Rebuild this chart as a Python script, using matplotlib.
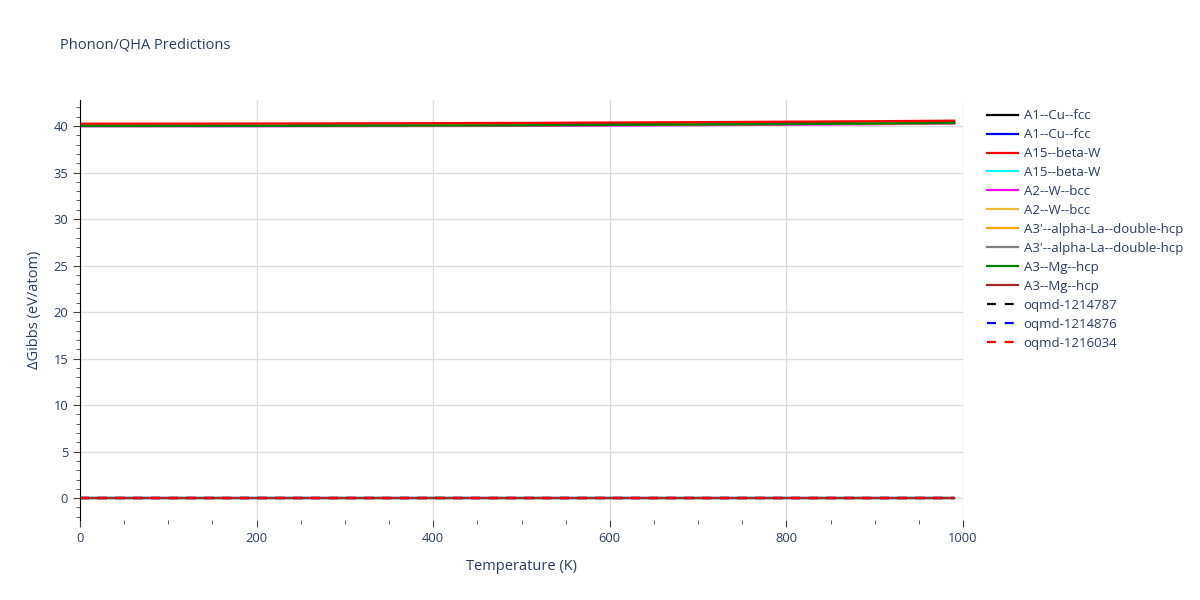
import matplotlib
matplotlib.use("Agg")
import matplotlib.pyplot as plt
from matplotlib.ticker import MultipleLocator

plt.rcParams['font.family'] = ['Open Sans', 'DejaVu Sans']

temps = [0, 100, 200, 300, 400, 500, 600, 700, 800, 900, 990]

labels = ["A1--Cu--fcc", "A1--Cu--fcc", "A15--beta-W", "A15--beta-W", "A2--W--bcc", "A2--W--bcc",
          "A3'--alpha-La--double-hcp", "A3'--alpha-La--double-hcp", "A3--Mg--hcp", "A3--Mg--hcp",
          "oqmd-1214787", "oqmd-1214876", "oqmd-1216034"]
colors = ["black", "blue", "red", "cyan", "magenta", "#EBC13A", "orange", "grey", "green", "brown",
          "black", "blue", "red"]
dashed = [False] * 10 + [True] * 3

s_a1_cu_1 = [40.08, 40.08, 40.09, 40.11, 40.13, 40.16, 40.2, 40.25, 40.3, 40.36, 40.42]
s_a1_cu_2 = [0.0] * 11
s_a15_1 = [40.25, 40.26, 40.27, 40.29, 40.31, 40.34, 40.38, 40.42, 40.47, 40.52, 40.58]
s_a15_2 = [0.06] * 11
s_a2_1 = [39.98, 39.98, 39.98, 39.99, 40.0, 40.02, 40.05, 40.09, 40.14, 40.2, 40.26]
s_a2_2 = [0.02] * 11
s_a3p_1 = [40.02, 40.02, 40.03, 40.04, 40.06, 40.09, 40.12, 40.16, 40.21, 40.26, 40.31]
s_a3p_2 = [0.0] * 11
s_a3_1 = [40.0, 40.0, 40.01, 40.03, 40.05, 40.08, 40.12, 40.16, 40.21, 40.27, 40.33]
s_a3_2 = [-0.03] * 11
s_oq_1 = [0.0] * 11
s_oq_2 = [0.03] * 11
s_oq_3 = [-0.02] * 11

series = [s_a1_cu_1, s_a1_cu_2, s_a15_1, s_a15_2, s_a2_1, s_a2_2, s_a3p_1, s_a3p_2,
          s_a3_1, s_a3_2, s_oq_1, s_oq_2, s_oq_3]

fig = plt.figure(figsize=(12, 6), dpi=100)
ax = fig.add_axes([80/1200, 1 - 520/600, (963-80)/1200, (520-100)/600])

txt = "#2a3f5f"
handles = []
for lab, c, d, ys in zip(labels, colors, dashed, series):
    h, = ax.plot(temps, ys, color=c, lw=1.6, linestyle=(0, (4, 4)) if d else '-', label=lab)
    handles.append(h)

ax.set_xlim(0, 1000)
ax.set_ylim(-2.35, 42.8)
ax.xaxis.set_major_locator(MultipleLocator(200))
ax.xaxis.set_minor_locator(MultipleLocator(50))
ax.yaxis.set_major_locator(MultipleLocator(5))
ax.yaxis.set_minor_locator(MultipleLocator(1))
ax.grid(True, which='major', color='#DDDDDD', lw=1)
ax.set_axisbelow(True)
for sp in ['top', 'right', 'bottom']:
    ax.spines[sp].set_visible(False)
ax.spines['left'].set_color('black')
ax.tick_params(axis='both', which='major', length=5, color='#444444', labelcolor=txt, labelsize=9.3)
ax.tick_params(axis='both', which='minor', length=3, color='#444444')
ax.set_xlabel("Temperature (K)", color=txt, fontsize=10.5, labelpad=10)
ax.set_ylabel("ΔGibbs (eV/atom)", color=txt, fontsize=10.5, labelpad=8)

fig.text(60/1200, 1 - 45/600, "Phonon/QHA Predictions", color=txt, fontsize=10.5, va='center', ha='left')

fig.legend(handles=handles, loc='upper left', bbox_to_anchor=(982/1200, 1 - 104/600), frameon=False,
           fontsize=9.5, labelcolor=txt, handlelength=2.3, handletextpad=0.45, labelspacing=0.45,
           borderaxespad=0)

fig.savefig("out.png", dpi=100)
